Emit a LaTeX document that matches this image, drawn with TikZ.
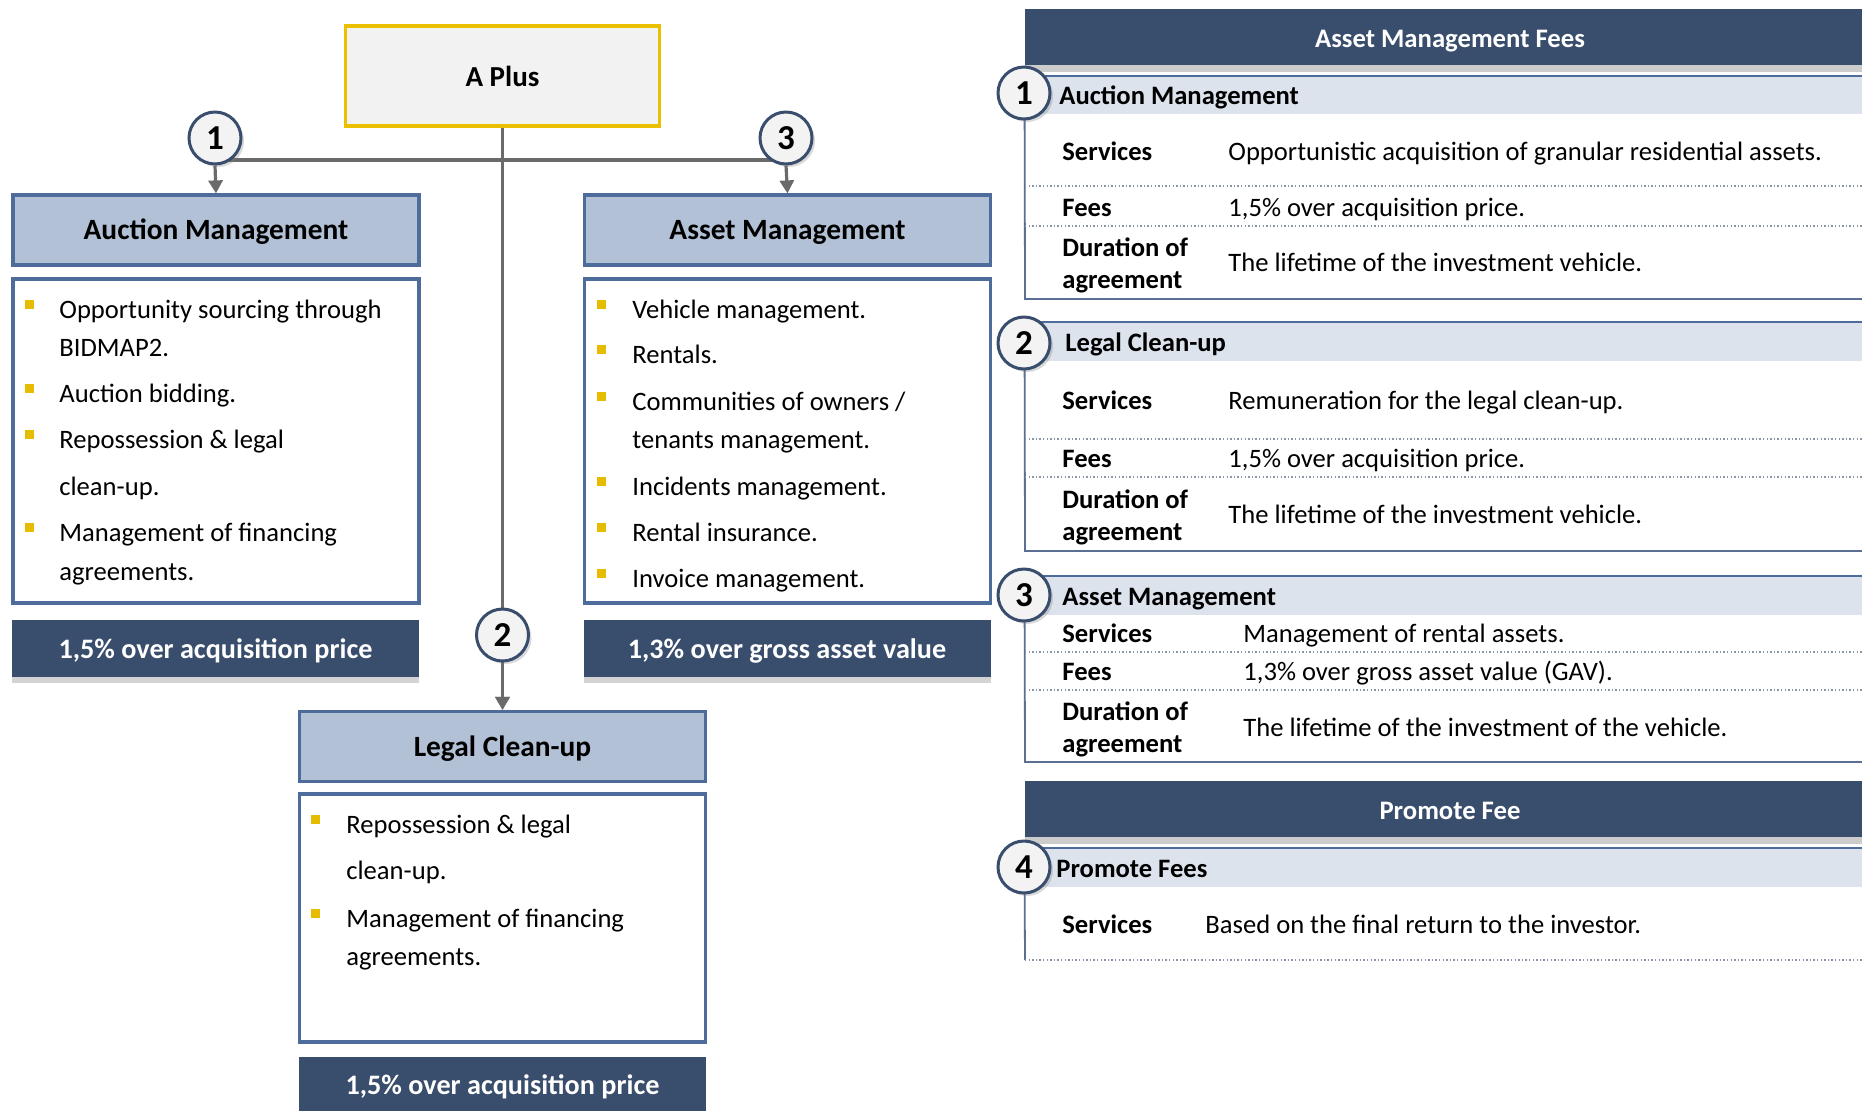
\documentclass[tikz,border=0pt]{standalone}
\usepackage{fontspec}
\setmainfont{Carlito}
\usetikzlibrary{arrows.meta,shadows}
\definecolor{navy}{HTML}{394D6C}
\definecolor{hdrfill}{HTML}{B2C1D5}
\definecolor{hdrline}{HTML}{4E6C9B}
\definecolor{bandc}{HTML}{DCE3ED}
\definecolor{gold}{HTML}{E6BC00}
\definecolor{connc}{HTML}{6A6A6A}
\definecolor{aplusline}{HTML}{EBC000}
\definecolor{aplusfill}{HTML}{F2F2F2}
\definecolor{circfill}{HTML}{F3F3F3}
\definecolor{rulec}{HTML}{5A6F93}
\definecolor{dotc}{HTML}{8A96A8}
\tikzset{
 conn/.style={draw=connc, line width=1.6pt},
 arr/.style={conn, -{Triangle[width=7pt,length=6.5pt]}},
 aplusbox/.style={draw=aplusline, fill=aplusfill, line width=1.6pt, minimum width=157pt, minimum height=50pt, inner sep=0pt, text height=1.14em, text depth=0.14em, font=\bfseries\fontsize{14.5}{17}\selectfont},
 hdr/.style={draw=hdrline, fill=hdrfill, line width=1.6pt, minimum width=203pt, minimum height=35pt, inner sep=0pt, text height=1.11em, text depth=0.15em, font=\bfseries\fontsize{14.7}{17}\selectfont},
 bodybox/.style={draw=hdrline, fill=white, line width=1.6pt, minimum width=203pt, inner sep=0pt},
 feebox/.style={fill=navy, text=white, minimum width=203.5pt, minimum height=28.5pt, inner sep=0pt, text height=1.12em, text depth=0.15em, font=\bfseries\fontsize{14.1}{16}\selectfont, drop shadow={opacity=0.35, shadow xshift=0pt, shadow yshift=-3pt}},
 num/.style={circle, draw=navy, line width=1.5pt, fill=circfill, minimum size=26pt, inner sep=0pt, font=\bfseries\fontsize{17.5}{20}\selectfont, drop shadow={opacity=0.3, shadow xshift=1.5pt, shadow yshift=-1.5pt}},
 bul/.style={fill=gold, minimum size=4.5pt, inner sep=0pt},
 txt/.style={anchor=west, inner sep=0pt, text height=1.08em, text depth=0.14em, font=\fontsize{13.3}{16}\selectfont},
 lab/.style={anchor=west, inner sep=0pt, text height=1.08em, text depth=0.14em, font=\bfseries\fontsize{13.3}{16}\selectfont},
 dur/.style={anchor=west, inner sep=0pt, align=left, yshift=-1.2pt, font=\bfseries\fontsize{13.3}{16}\selectfont},
 bigbar/.style={fill=navy, text=white, minimum width=425pt, minimum height=27.75pt, inner sep=0pt, text height=1.23em, text depth=0.15em, font=\bfseries\fontsize{13.35}{16}\selectfont, drop shadow={opacity=0.4, shadow xshift=0pt, shadow yshift=-3.5pt}},
 band/.style={fill=bandc, minimum width=425pt, minimum height=19pt, inner sep=0pt},
 sectt/.style={anchor=west, inner sep=0pt, text height=1.08em, text depth=0.14em, font=\bfseries\fontsize{13.3}{15}\selectfont},
 rule/.style={draw=rulec, line width=0.9pt},
 topline/.style={draw=hdrline, line width=1pt},
 dotrule/.style={draw=dotc, line width=0.7pt, dash pattern=on 0.7pt off 1.1pt},
}
\begin{document}
\begin{tikzpicture}[x=0.5pt,y=-0.5pt]
\useasboundingbox (0,0) rectangle (1862,1110);
% ---------------- left tree ----------------
\node[aplusbox] (aplus) at (502.5,76) {A Plus};
\node[hdr] (auchead) at (216,230) {Auction Management};
\node[bodybox, minimum height=162pt] (aucbody) at (216,441) {};
\node[feebox] (aucfee) at (215.5,648.5) {1,5\% over acquisition price};
\node[hdr] (asshead) at (787.5,230) {Asset Management};
\node[bodybox, minimum height=162pt] (assbody) at (787.5,441) {};
\node[feebox] (assfee) at (787,648.5) {1,3\% over gross asset value};
\node[hdr] (leghead) at (502.5,746.5) {Legal Clean-up};
\node[bodybox, minimum height=124pt] (legbody) at (502.5,918) {};
\node[feebox] (legfee) at (502.5,1085) {1,5\% over acquisition price};

\coordinate (hl) at (215,160);
\coordinate (hr) at (786,160);
\draw[conn, line width=2pt] (hl) -- (hr);
\draw[arr] (aplus.south) -- (leghead.north);
\node[num] (c1) at (215,138) {1};
\node[num] (c3) at (786,138) {3};
\node[num] (c2) at (502.5,635) {2};
\draw[arr] (c1.south) -- (auchead.north);
\draw[arr] (c3.south) -- (asshead.north);
\draw[arr] (c2.south) -- (leghead.north);

% bullets: auction
\node[bul] (ab1) at (29,304) {};
\node[txt] (at1) at (59,309) {Opportunity sourcing through};
\node[txt] (at1b) at (59,347) {BIDMAP2.};
\node[bul] (ab2) at (29,388) {};
\node[txt] (at2) at (59,393) {Auction bidding.};
\node[bul] (ab3) at (29,434) {};
\node[txt] (at3) at (59,439) {Repossession \& legal};
\node[txt] (at3b) at (59,486) {clean-up.};
\node[bul] (ab4) at (29,527) {};
\node[txt] (at4) at (59,532) {Management of financing};
\node[txt] (at4b) at (59,571) {agreements.};
% bullets: asset
\node[bul] (sb1) at (601,304) {};
\node[txt] (st1) at (632,309) {Vehicle management.};
\node[bul] (sb2) at (601,349) {};
\node[txt] (st2) at (632,354) {Rentals.};
\node[bul] (sb3) at (601,396) {};
\node[txt] (st3) at (632,401) {Communities of owners /};
\node[txt] (st3b) at (632,439) {tenants management.};
\node[bul] (sb4) at (601,481) {};
\node[txt] (st4) at (632,486) {Incidents management.};
\node[bul] (sb5) at (601,527) {};
\node[txt] (st5) at (632,532) {Rental insurance.};
\node[bul] (sb6) at (601,573) {};
\node[txt] (st6) at (632,578) {Invoice management.};
% bullets: legal
\node[bul] (lb1) at (315,819) {};
\node[txt] (lt1) at (346,824) {Repossession \& legal};
\node[txt] (lt1b) at (346,870) {clean-up.};
\node[bul] (lb2) at (315,913) {};
\node[txt] (lt2) at (346,918) {Management of financing};
\node[txt] (lt2b) at (346,956) {agreements.};

% ---------------- right tables ----------------
\node[bigbar] (bar1) at (1450,37) {Asset Management Fees};
% section 1
\node[band] (band1) at (1450,95) {};
\draw[topline] (band1.north west) -- (band1.north east);
\node[sectt] (t1) at (1059,95) {Auction Management};
\coordinate (s1b) at (1025,299);
\coordinate (s1e) at (1875,299);
\draw[rule] (band1.south west) -- (s1b) -- (s1e);
\draw[dotrule] (1025,186) -- (1875,186);
\draw[dotrule] (1025,226) -- (1875,226);
\node[lab] (s1l1) at (1062,151) {Services};
\node[txt] (s1v1) at (1228,151) {Opportunistic acquisition of granular residential assets.};
\node[lab] (s1l2) at (1062,207) {Fees};
\node[txt] (s1v2) at (1228,207) {1,5\% over acquisition price.};
\node[dur] (s1l3) at (1062,263) {Duration of\\agreement};
\node[txt] (s1v3) at (1228,262) {The lifetime of the investment vehicle.};
\node[num] (r1) at (1024,93) {1};
% section 2
\node[band] (band2) at (1450,341.5) {};
\draw[topline] (band2.north west) -- (band2.north east);
\node[sectt] (t2) at (1065,342) {Legal Clean-up};
\coordinate (s2b) at (1025,551);
\coordinate (s2e) at (1875,551);
\draw[rule] (band2.south west) -- (s2b) -- (s2e);
\draw[dotrule] (1025,439) -- (1875,439);
\draw[dotrule] (1025,477) -- (1875,477);
\node[lab] (s2l1) at (1062,400) {Services};
\node[txt] (s2v1) at (1228,400) {Remuneration for the legal clean-up.};
\node[lab] (s2l2) at (1062,458) {Fees};
\node[txt] (s2v2) at (1228,458) {1,5\% over acquisition price.};
\node[dur] (s2l3) at (1062,515) {Duration of\\agreement};
\node[txt] (s2v3) at (1228,514) {The lifetime of the investment vehicle.};
\node[num] (r2) at (1024,343) {2};
% section 3
\node[band] (band3) at (1450,595.5) {};
\draw[topline] (band3.north west) -- (band3.north east);
\node[sectt] (t3) at (1062,596) {Asset Management};
\coordinate (s3b) at (1025,762);
\coordinate (s3e) at (1875,762);
\draw[rule] (band3.south west) -- (s3b) -- (s3e);
\draw[dotrule] (1025,652) -- (1875,652);
\draw[dotrule] (1025,690) -- (1875,690);
\node[lab] (s3l1) at (1062,633) {Services};
\node[txt] (s3v1) at (1243,633) {Management of rental assets.};
\node[lab] (s3l2) at (1062,671) {Fees};
\node[txt] (s3v2) at (1243,671) {1,3\% over gross asset value (GAV).};
\node[dur] (s3l3) at (1062,727) {Duration of\\agreement};
\node[txt] (s3v3) at (1243,727) {The lifetime of the investment of the vehicle.};
\node[num] (r3) at (1024,595) {3};
% promote fee
\node[bigbar] (bar2) at (1450,809) {Promote Fee};
\node[band] (band4) at (1450,867.5) {};
\draw[topline] (band4.north west) -- (band4.north east);
\node[sectt] (t4) at (1056,868) {Promote Fees};
\coordinate (s4b) at (1025,960);
\draw[rule] (band4.south west) -- (s4b);
\draw[dotrule] (1025,960) -- (1875,960);
\node[lab] (s4l1) at (1062,924) {Services};
\node[txt] (s4v1) at (1205,924) {Based on the final return to the investor.};
\node[num] (r4) at (1024,867) {4};
\end{tikzpicture}
\end{document}
